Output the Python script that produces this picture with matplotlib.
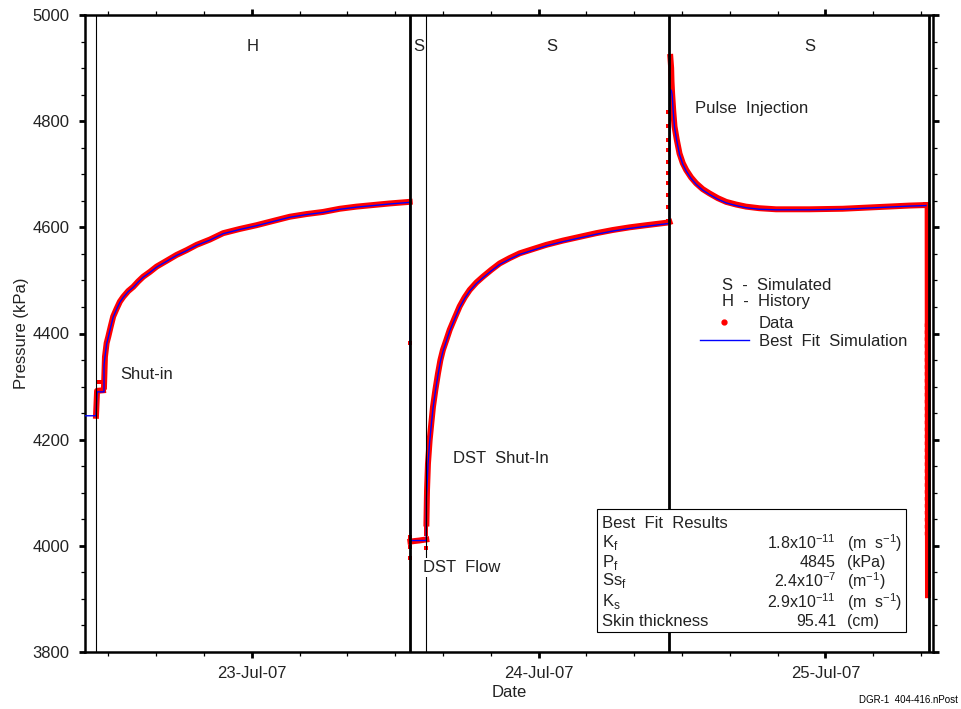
import matplotlib
matplotlib.use("Agg")
import matplotlib.pyplot as plt
import matplotlib.dates as mdates
from matplotlib.ticker import MultipleLocator
from matplotlib.lines import Line2D
from matplotlib.patches import Rectangle
import numpy as np
from datetime import datetime

# times are hours from 23-Jul-07 00:00, pressures in kPa
start_day = mdates.date2num(datetime(2007, 7, 23))

# history period before shut-in (simulation only) and the step at shut-in
pre_h = [-13.96, -13.04, -12.95, -12.37]
pre_fit = [4245, 4245, 4290, 4290]
step_h = [-13.04, -12.95, -12.45]
step_p = [4245, 4292, 4293]

# shut-in recovery
shutin_h = [-12.37, -12.29, -12.15, -12.01, -11.81, -11.60, -11.31, -11.04, -10.76, -10.34,
            -9.92, -9.51, -9.09, -8.53, -7.97, -7.13, -6.30, -5.46, -4.62, -3.51,
            -2.40, -1.00, 0.39, 1.78, 3.18, 4.57, 5.96, 7.36, 8.75, 10.14,
            11.54, 13.21]
shutin_p = [4300, 4356, 4382, 4394, 4413, 4432, 4447, 4460, 4469, 4480,
            4488, 4498, 4507, 4516, 4526, 4537, 4548, 4557, 4567, 4577,
            4589, 4597, 4604, 4612, 4620, 4625, 4629, 4635, 4639, 4642,
            4645, 4648]
shutin_fit = [4340, 4356, 4380, 4393, 4412, 4431, 4446, 4459, 4468, 4479,
              4487, 4497, 4506, 4515, 4525, 4536, 4547, 4556, 4566, 4576,
              4588, 4596, 4603, 4611, 4619, 4624, 4628, 4634, 4638, 4641,
              4644, 4647]

# DST flow
flow_h = [13.27, 13.6, 14.0, 14.3, 14.6]
flow_p = [4008, 4009, 4010, 4011, 4012]
flow_fit = [4010, 4010, 4010, 4010, 4010]

# DST shut-in recovery
dst_h = [14.61, 14.66, 14.74, 14.88, 15.02, 15.16, 15.36, 15.58, 15.78, 15.99,
         16.28, 16.56, 16.97, 17.39, 17.81, 18.23, 18.79, 19.34, 20.04, 20.74,
         21.57, 22.41, 23.52, 24.64, 26.03, 27.42, 28.82, 30.21, 31.61, 33.00,
         34.81, 34.95]
dst_p = [4042, 4105, 4155, 4199, 4231, 4262, 4294, 4325, 4350, 4369,
         4388, 4407, 4429, 4451, 4468, 4482, 4496, 4507, 4520, 4532,
         4542, 4551, 4559, 4567, 4575, 4582, 4589, 4595, 4600, 4604,
         4609, 4610]
dst_fit = [4090, 4110, 4153, 4196, 4228, 4259, 4291, 4322, 4347, 4366,
           4386, 4405, 4427, 4449, 4466, 4480, 4494, 4505, 4518, 4530,
           4540, 4549, 4557, 4565, 4573, 4580, 4587, 4593, 4598, 4602,
           4607, 4608]

# pulse injection
pulse_h = [35.02, 35.09, 35.12, 35.17, 35.26, 35.37, 35.56, 35.79, 36.06, 36.35,
           36.76, 37.18, 37.73, 38.29, 38.99, 39.69, 40.52, 41.36, 42.47, 43.87,
           46.66, 49.44, 52.23, 55.02, 56.41]
pulse_p = [4921, 4900, 4875, 4852, 4821, 4790, 4765, 4739, 4721, 4708,
           4694, 4683, 4672, 4664, 4655, 4648, 4643, 4639, 4636, 4634,
           4634, 4635, 4638, 4641, 4642]
pulse_fit = [4860, 4858, 4856, 4850, 4819, 4788, 4763, 4737, 4719, 4706,
             4692, 4681, 4670, 4662, 4653, 4646, 4641, 4637, 4634, 4633,
             4633, 4634, 4637, 4640, 4641]

# end of test pressure drop
drop_h = [56.41, 56.55, 56.58]
drop_p = [4642, 4642, 3907]

# scattered readings during the pressure steps
dots_h = [-12.8, -12.6, 13.27, 13.27, 13.27, 13.27, 14.6, 14.6, 14.6, 14.6,
          34.85, 34.85, 34.85, 34.85, 34.85, 34.85, 34.85, 34.85, 34.85, 34.85]
dots_p = [4308, 4308, 4382, 4017, 3998, 3977, 3995, 4022, 4030, 4036,
          4611, 4639, 4661, 4683, 4702, 4724, 4746, 4765, 4790, 4818]
tail_h = [56.42, 56.42]
tail_p = [4420, 4015]

# test period boundaries
thick_h = [13.27, 34.95, 56.65]
thin_h = [-13.04, 14.61]

period_h = [0.08, 13.96, 25.08, 46.66]
period_lbl = ["H", "S", "S", "S"]

results_names = [r"K$_\mathregular{f}$", r"P$_\mathregular{f}$", r"Ss$_\mathregular{f}$",
                 r"K$_\mathregular{s}$", "Skin thickness"]
results_vals = [r"1.8x10$^{\mathregular{-11}}$", "4845", r"2.4x10$^{\mathregular{-7}}$",
                r"2.9x10$^{\mathregular{-11}}$", "95.41"]
results_units = [r"(m  s$^{\mathregular{-1}}$)", "(kPa)", r"(m$^{\mathregular{-1}}$)",
                 r"(m  s$^{\mathregular{-1}}$)", "(cm)"]


def day(h):
    return start_day + np.asarray(h, dtype=float) / 24.0


plt.rcParams["font.family"] = ["Liberation Sans", "DejaVu Sans"]
plt.rcParams["mathtext.fontset"] = "custom"
plt.rcParams["mathtext.rm"] = "Liberation Sans"
plt.rcParams["font.size"] = 12

red = "#ff0000"
blue = "#0000ff"
ink = "#222222"

fig = plt.figure(figsize=(9.62, 7.09), dpi=100)
ax = fig.add_axes([85 / 962, 1 - 652 / 709, 848 / 962, 637 / 709])

# measured data
for h, p in [(step_h, step_p), (shutin_h, shutin_p), (flow_h, flow_p),
             (dst_h, dst_p), (pulse_h, pulse_p), (drop_h, drop_p)]:
    ax.plot(day(h), p, color=red, lw=4.3, solid_joinstyle="round", zorder=2)
ax.plot(day(dots_h), dots_p, ls="none", marker="s", ms=3.0, mew=0, color=red, zorder=2)
ax.plot(day(tail_h), tail_p, color=red, lw=2.5, ls=(0, (1, 1)), zorder=2)

# simulation as one continuous trace
fit_h = np.concatenate([pre_h, shutin_h, flow_h, dst_h, pulse_h])
fit_p = np.concatenate([pre_fit, shutin_fit, flow_fit, dst_fit, pulse_fit])
ax.plot(day(fit_h), fit_p, color=blue, lw=1.0, zorder=3)

for h in thick_h:
    ax.axvline(day(h), color="black", lw=2.0, zorder=4)
for h in thin_h:
    ax.axvline(day(h), color="black", lw=0.8, zorder=4)

for h, s in zip(period_h, period_lbl):
    ax.text(day(h), 4940, s, ha="center", va="center", color=ink)

ax.text(day(-11.04), 4322, "Shut-in", ha="left", va="center", color=ink)
ax.text(day(16.81), 4165, "DST  Shut-In", ha="left", va="center", color=ink)
ax.text(day(14.30), 3960, "DST  Flow", ha="left", va="center", color=ink, zorder=5,
        bbox=dict(fc="white", ec="none", pad=1.5))
ax.text(day(37.12), 4823, "Pulse  Injection", ha="left", va="center", color=ink)

# legend
ax.text(0.7512, 0.5761, "S  -  Simulated", transform=ax.transAxes, va="center", color=ink)
ax.text(0.7512, 0.5495, "H  -  History", transform=ax.transAxes, va="center", color=ink)
handles = [Line2D([], [], ls="none", marker="o", ms=3.5, color=red),
           Line2D([], [], color=blue, lw=1.0)]
leg = ax.legend(handles, ["Data", "Best  Fit  Simulation"], loc="upper left",
                bbox_to_anchor=(0.7252, 0.528), frameon=False, borderpad=0, borderaxespad=0,
                handlelength=2.94, handletextpad=0.6, labelspacing=0.18, fontsize=12)
for t in leg.get_texts():
    t.set_color(ink)

# results box
ax.add_patch(Rectangle((0.6038, 0.0314), 0.3644, 0.1931, transform=ax.transAxes,
                       fc="white", ec="black", lw=0.8, zorder=6))
ax.text(0.6097, 0.2025, "Best  Fit  Results", transform=ax.transAxes, va="center",
        color=ink, zorder=7)
rows_y = [0.1715, 0.1405, 0.1115, 0.0790, 0.0480]
for y, n, v, u in zip(rows_y, results_names, results_vals, results_units):
    ax.text(0.6097, y, n, transform=ax.transAxes, va="center", color=ink, zorder=7)
    ax.text(0.8856, y, v, transform=ax.transAxes, va="center", ha="right", color=ink,
            fontsize=11.5, zorder=7)
    ax.text(0.8986, y, u, transform=ax.transAxes, va="center", ha="left", color=ink,
            fontsize=11.5, zorder=7)

ax.set_xlim(day(-13.96), day(57.0))
ax.set_ylim(3800, 5000)
ax.xaxis.set_major_locator(mdates.DayLocator())
ax.xaxis.set_minor_locator(mdates.HourLocator(byhour=range(0, 24, 4)))
ax.xaxis.set_major_formatter(mdates.DateFormatter("%d-%b-%y"))
ax.yaxis.set_major_locator(MultipleLocator(200))
ax.yaxis.set_minor_locator(MultipleLocator(50))

ax.tick_params(which="both", direction="out", top=True, right=True, labelsize=12,
               colors="black", labelcolor=ink)
ax.tick_params(which="major", length=4.5, width=2.0)
ax.tick_params(which="minor", length=3.0, width=0.9)
ax.tick_params(axis="x", pad=5.5)
ax.tick_params(axis="y", pad=6.5)
for sp in ax.spines.values():
    sp.set_linewidth(1.8)

ax.set_ylabel("Pressure (kPa)", fontsize=12, color=ink)
ax.yaxis.set_label_coords(-0.066, 0.5)
ax.set_xlabel("Date", fontsize=12, color=ink)
ax.xaxis.set_label_coords(0.5, -0.052)

fig.text(958 / 962, 1 - 700 / 709, "DGR-1  404-416.nPost", ha="right", va="center", fontsize=7)

fig.savefig("out.png", dpi=100)
